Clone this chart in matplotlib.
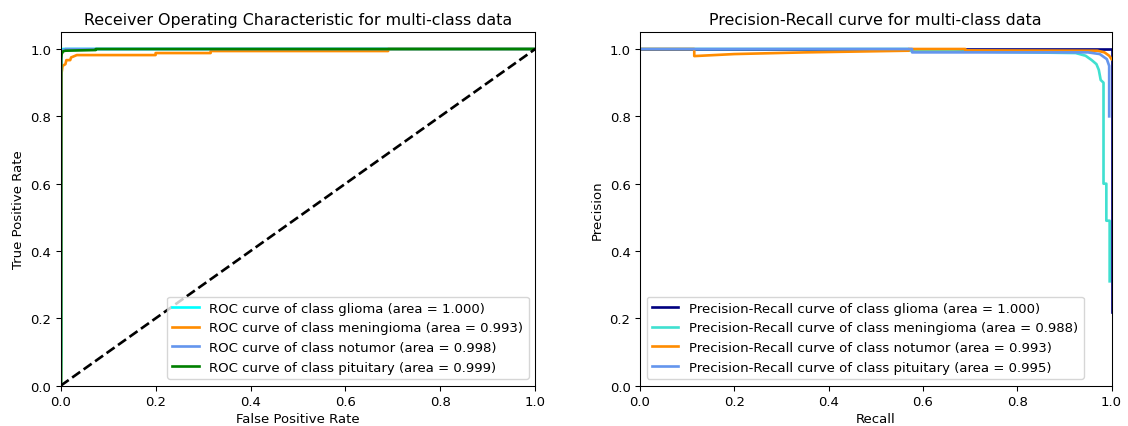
import matplotlib
matplotlib.use("Agg")
import matplotlib.pyplot as plt

classes = ["glioma", "meningioma", "notumor", "pituitary"]

# ROC data
roc_auc = [1.000, 0.993, 0.998, 0.999]
roc_fpr = [
    [0.0, 0.001, 0.001, 0.002, 0.004, 1.0],
    [0.0, 0.002, 0.004, 0.01, 0.012, 0.02, 0.022, 0.034, 0.2, 0.2, 0.316, 0.316, 0.69, 0.69, 1.0],
    [0.0, 0.001, 0.001, 0.003, 0.01, 1.0],
    [0.0, 0.001, 0.001, 0.002, 0.005, 0.01, 0.074, 0.074, 1.0],
]
roc_tpr = [
    [0.0, 0.1, 0.99, 0.997, 1.0, 1.0],
    [0.0, 0.93, 0.95, 0.955, 0.967, 0.967, 0.975, 0.982, 0.982, 0.988, 0.988, 0.994, 0.994, 1.0, 1.0],
    [0.0, 0.55, 0.98, 0.995, 1.0, 1.0],
    [0.0, 0.0, 0.97, 0.985, 0.993, 0.995, 0.997, 1.0, 1.0],
]
roc_colors = ["aqua", "darkorange", "cornflowerblue", "green"]

# Precision-Recall data
pr_auc = [1.000, 0.988, 0.993, 0.995]
pr_recall = [
    [0.0, 0.894, 0.999, 1.0, 1.0],
    [0.0, 0.57, 0.57, 0.924, 0.945, 0.958, 0.968, 0.973, 0.977, 0.983, 0.983, 0.989, 0.989, 0.996, 0.996],
    [0.0, 0.115, 0.115, 0.2, 0.35, 0.57, 0.57, 0.69, 0.69, 0.97, 0.985, 0.995, 1.0],
    [0.0, 0.577, 0.577, 0.95, 0.975, 0.99, 0.995, 0.995],
]
pr_precision = [
    [1.0, 1.0, 1.0, 1.0, 0.22],
    [1.0, 1.0, 0.995, 0.988, 0.98, 0.967, 0.955, 0.938, 0.908, 0.90, 0.60, 0.60, 0.49, 0.49, 0.31],
    [1.0, 1.0, 0.979, 0.985, 0.99, 0.995, 1.0, 1.0, 0.996, 0.995, 0.99, 0.98, 0.97],
    [1.0, 1.0, 0.99, 0.99, 0.985, 0.97, 0.95, 0.80],
]
pr_colors = ["navy", "turquoise", "darkorange", "cornflowerblue"]

s = 0.955
plt.rcParams["font.size"] = 10 * s

fig = plt.figure(figsize=(11.28, 4.27), dpi=100)
ax1 = fig.add_axes([0.0538, 0.0944, 0.4207, 0.8279])
ax2 = fig.add_axes([0.5674, 0.0944, 0.4180, 0.8279])

for name, fpr, tpr, auc, c in zip(classes, roc_fpr, roc_tpr, roc_auc, roc_colors):
    ax1.plot(fpr, tpr, color=c, lw=2 * s,
             label=f"ROC curve of class {name} (area = {auc:.3f})")
ax1.plot([0, 1], [0, 1], "k--", lw=2 * s)
ax1.set_xlim(0.0, 1.0)
ax1.set_ylim(0.0, 1.05)
ax1.set_xlabel("False Positive Rate", labelpad=3)
ax1.set_ylabel("True Positive Rate")
ax1.set_title("Receiver Operating Characteristic for multi-class data", fontsize=12 * s)
ax1.legend(loc="lower right")

for name, rec, prec, auc, c in zip(classes, pr_recall, pr_precision, pr_auc, pr_colors):
    ax2.plot(rec, prec, color=c, lw=2 * s,
             label=f"Precision-Recall curve of class {name} (area = {auc:.3f})")
ax2.set_xlim(0.0, 1.0)
ax2.set_ylim(0.0, 1.05)
ax2.set_xlabel("Recall", labelpad=3)
ax2.set_ylabel("Precision")
ax2.set_title("Precision-Recall curve for multi-class data", fontsize=12 * s)
ax2.legend(loc="lower left")

for ax in (ax1, ax2):
    ax.tick_params(length=3.5 * s, width=0.8 * s)
    for sp in ax.spines.values():
        sp.set_linewidth(0.8 * s)

fig.savefig("out.png", dpi=100)
